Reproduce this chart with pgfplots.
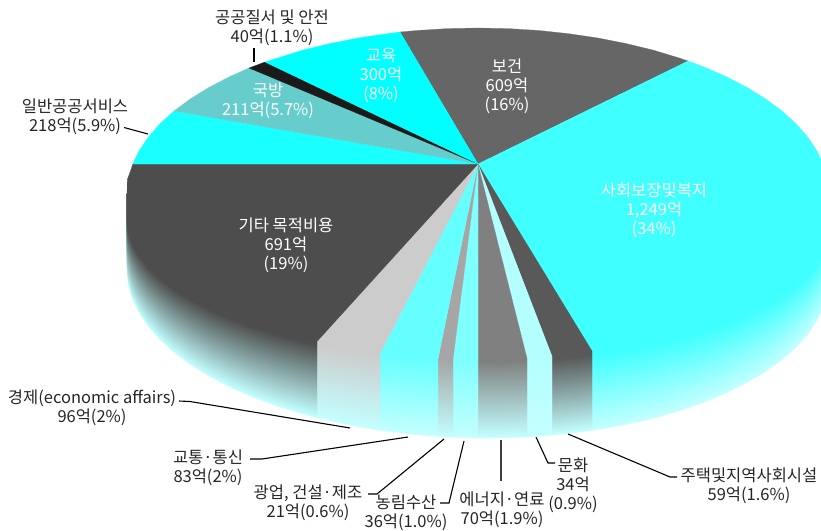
\documentclass[border=0pt]{standalone}
\usepackage{fontspec}
\setmainfont{Noto Sans CJK KR}
\usepackage{pgfplots}
\usepackage{pgfplotstable}
\pgfplotsset{compat=1.18}
\definecolor{pale}{HTML}{C4FFFF}
\definecolor{cBog}{HTML}{666666}
\definecolor{cSa}{HTML}{40FFFF}
\definecolor{cJu}{HTML}{595959}
\definecolor{cMu}{HTML}{B3FFFF}
\definecolor{cEn}{HTML}{808080}
\definecolor{cNo}{HTML}{80FFFF}
\definecolor{cGw}{HTML}{A6A6A6}
\definecolor{cGt}{HTML}{66FFFF}
\definecolor{cGj}{HTML}{CCCCCC}
\definecolor{cGi}{HTML}{4D4D4D}
\definecolor{cIl}{HTML}{1AFFFF}
\definecolor{cGb}{HTML}{66CCCC}
\definecolor{cGg}{HTML}{1A1A1A}
\definecolor{cGy}{HTML}{00FFFF}
% top face sectors
\pgfplotstableread{
x y
478 164
400 32
417 30.5
447.4 28.6
478 28
508.6 28.6
538.9 30.5
568.8 33.7
598 38
626.3 43.6
653.5 50.2
679.3 58
688 61
}\tBog
\pgfplotstableread{
x y
478 164
688 61
703.6 66.8
726.2 76.6
746.9 87.3
765.5 98.8
782 111
796.1 123.8
807.8 137.2
817 151
823.7 165.2
827.7 179.5
829 194
827.7 208.5
823.7 222.8
817 237
807.8 250.8
796.1 264.2
782 277
765.5 289.2
746.9 300.7
726.2 311.4
703.6 321.2
679.3 330
653.5 337.8
626.3 344.4
592 351
}\tSa
\pgfplotstableread{
x y
478 164
592 351
572 353.9
552 356.3
}\tJu
\pgfplotstableread{
x y
478 164
552 356.3
527 358.4
}\tMu
\pgfplotstableread{
x y
478 164
527 358.4
502 359.6
478 360
}\tEn
\pgfplotstableread{
x y
478 164
478 360
453 359.6
}\tNo
\pgfplotstableread{
x y
478 164
453 359.6
438 358.9
}\tGw
\pgfplotstableread{
x y
478 164
438 358.9
409 356.7
380 353.4
}\tGt
\pgfplotstableread{
x y
478 164
380 353.4
350 348.6
317 341.5
}\tGj
\pgfplotstableread{
x y
478 164
317 341.5
302.5 337.8
276.7 330
252.4 321.2
229.8 311.4
209.1 300.7
190.5 289.2
174 277
159.9 264.2
148.2 250.8
139 237
132.3 222.8
128.3 208.5
127 194
127.3 179.5
130 172.3
132.8 164
}\tGi
\pgfplotstableread{
x y
478 164
132.8 164
139 151
148.2 137.2
159.9 123.8
174 111
}\tIl
\pgfplotstableread{
x y
478 164
174 111
190.5 98.8
209.1 87.3
229.8 76.6
249 68
}\tGb
\pgfplotstableread{
x y
478 164
249 68
265 62
}\tGg
\pgfplotstableread{
x y
478 164
265 62
302.5 50.2
329.7 43.6
358 38
387.2 33.7
400 32
}\tGy
% side wall: arc points (f=1) move with the layer, the two closing points (f=0) stay on the top rim
\pgfplotstableread{
x y f
829 194 1
827.7 208.5 1
823.7 222.8 1
817 237 1
807.8 250.8 1
796.1 264.2 1
782 277 1
765.5 289.2 1
746.9 300.7 1
726.2 311.4 1
703.6 321.2 1
679.3 330 1
653.5 337.8 1
626.3 344.4 1
592 351 1
592 351 0
829 194 0
}\wSa
\pgfplotstableread{
x y f
592 351 1
572 353.9 1
552 356.3 1
552 356.3 0
592 351 0
}\wJu
\pgfplotstableread{
x y f
552 356.3 1
527 358.4 1
527 358.4 0
552 356.3 0
}\wMu
\pgfplotstableread{
x y f
527 358.4 1
502 359.6 1
478 360 1
478 360 0
527 358.4 0
}\wEn
\pgfplotstableread{
x y f
478 360 1
453 359.6 1
453 359.6 0
478 360 0
}\wNo
\pgfplotstableread{
x y f
453 359.6 1
438 358.9 1
438 358.9 0
453 359.6 0
}\wGw
\pgfplotstableread{
x y f
438 358.9 1
409 356.7 1
380 353.4 1
380 353.4 0
438 358.9 0
}\wGt
\pgfplotstableread{
x y f
380 353.4 1
350 348.6 1
317 341.5 1
317 341.5 0
380 353.4 0
}\wGj
\pgfplotstableread{
x y f
317 341.5 1
302.5 337.8 1
276.7 330 1
252.4 321.2 1
229.8 311.4 1
209.1 300.7 1
190.5 289.2 1
174 277 1
159.9 264.2 1
148.2 250.8 1
139 237 1
132.3 222.8 1
128.3 208.5 1
127 194 1
127 194 0
317 341.5 0
}\wGi
\newcommand\wallpiece[3]{%
  \addplot[fill=#2!#3!pale,draw=#2!#3!pale,line width=0.2pt]
    table[x expr=\thisrowno{0},
          y expr=\thisrowno{1}+\thisrowno{2}*(274-0.5*#3+(\thisrowno{1}-194)*(0.988-0.00157*#3)+0.012*(\thisrowno{0}-478)-\thisrowno{1})]{#1}--cycle;}
\newcommand\toppiece[2]{%
  \addplot[fill=#2,draw=#2,line width=0.2pt] table[x=x,y=y]{#1}--cycle;}
\newcommand\leader[2][black]{%
  \addplot[#1,line width=1.1pt,forget plot] coordinates {#2};}
\begin{document}
\begin{tikzpicture}
\useasboundingbox (0,0) rectangle (821pt,530pt);
\begin{axis}[
  at={(0,0)},anchor=south west,
  scale only axis,width=821pt,height=530pt,
  xmin=0,xmax=821,ymin=0,ymax=530,y dir=reverse,
  hide axis,
  clip=true,
  every axis plot/.append style={mark=none}
]
\pgfplotsinvokeforeach{0,2,4,6,8,10,12,14,16,18,20,22,24,26,28,30,32,34,36,38,40,42,44,46,48,50,52,54,56,58,60,62,64,66,68,70,72,74,76,78,80,82,84,86,88,90,92,94,96,98,100}{
  \wallpiece{\wSa}{cSa}{#1}
  \wallpiece{\wJu}{cJu}{#1}
  \wallpiece{\wMu}{cMu}{#1}
  \wallpiece{\wEn}{cEn}{#1}
  \wallpiece{\wNo}{cNo}{#1}
  \wallpiece{\wGw}{cGw}{#1}
  \wallpiece{\wGt}{cGt}{#1}
  \wallpiece{\wGj}{cGj}{#1}
  \wallpiece{\wGi}{cGi}{#1}
}
\toppiece{\tBog}{cBog}
\toppiece{\tSa}{cSa}
\toppiece{\tJu}{cJu}
\toppiece{\tMu}{cMu}
\toppiece{\tEn}{cEn}
\toppiece{\tNo}{cNo}
\toppiece{\tGw}{cGw}
\toppiece{\tGt}{cGt}
\toppiece{\tGj}{cGj}
\toppiece{\tGi}{cGi}
\toppiece{\tIl}{cIl}
\toppiece{\tGb}{cGb}
\toppiece{\tGg}{cGg}
\toppiece{\tGy}{cGy}
\leader{(254,48) (254,62)}
\leader{(124,127.5) (148,134)}
\leader{(179,401) (190,401.5) (350,428)}
\leader{(250,459) (262,459) (408,437)}
\leader{(368,494) (377,494) (444,439)}
\leader{(440,503) (449,503) (464,441)}
\leader[black!75]{(501,440) (501,481)}
\leader{(536,437) (548,463) (555,463)}
\leader{(568,434) (670,477) (677,477)}
\tikzset{lab/.style={font=\fontsize{16.5}{19}\selectfont,align=center,inner sep=0pt,text=#1},lab/.default={black!85}}
\node[lab] at (axis cs:272,28) {공공질서 및 안전\\40억(1.1\%)};
\node[lab=white] at (axis cs:381,75.5) {교육\\300억\\(8\%)};
\node[lab=white] at (axis cs:507,86) {보건\\609억\\(16\%)};
\node[lab=white] at (axis cs:654,210) {사회보장및복지\\1,249억\\(34\%)};
\node[lab=white] at (axis cs:268,101) {국방\\211억(5.7\%)};
\node[lab] at (axis cs:75,117) {일반공공서비스\\218억(5.9\%)};
\node[lab=white] at (axis cs:286,245) {기타 목적비용\\691억\\(19\%)};
\node[lab] at (axis cs:92,408) {경제(economic affairs)\\96억(2\%)};
\node[lab] at (axis cs:208,468) {교통·통신\\83억(2\%)};
\node[lab] at (axis cs:308,502.5) {광업, 건설·제조\\21억(0.6\%)};
\node[lab] at (axis cs:406,512.5) {농림수산\\36억(1.0\%)};
\node[lab] at (axis cs:502,510) {에너지·연료\\70억(1.9\%)};
\node[lab] at (axis cs:573,485.5) {문화\\34억\\(0.9\%)};
\node[lab] at (axis cs:749,486) {주택및지역사회시설\\59억(1.6\%)};
\end{axis}
\end{tikzpicture}
\end{document}
